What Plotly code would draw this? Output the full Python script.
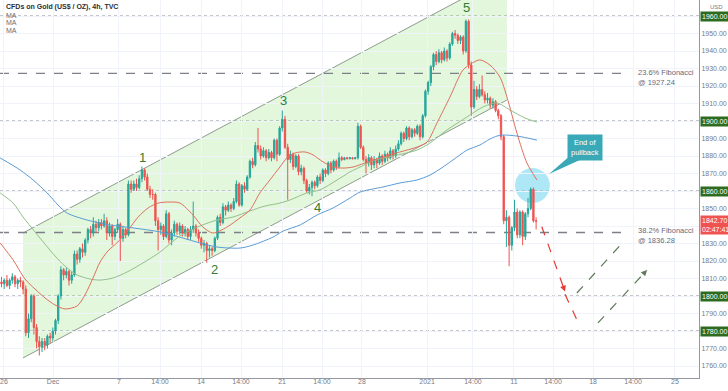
import plotly.graph_objects as go

# ---------------- data ----------------
opens = [1808,1807,1809,1806,1809,1811,1807,1809,1808,1804,1779,1787,1800,1782,1774,1771,1774,1772,1777,1776,
         1780,1786,1800,1815,1812,1814,1809,1812,1824,1821,1827,1825,1832,1838,1836,1841,1839,1842,1840,1843,
         1836,1840,1834,1838,1841,1833,1838,1835,1864,1861,1864,1862,1867,1872,1868,1861,1858,1858,1843,1838,
         1840,1834,1847,1832,1836,1841,1837,1840,1836,1838,1834,1838,1840,1836,1833,1829,1830,1826,1827,1826,
         1833,1845,1842,1851,1849,1852,1850,1854,1864,1852,1863,1861,1868,1877,1875,1886,1884,1880,1883,1879,
         1882,1879,1889,1881,1896,1901,1885,1878,1881,1874,1880,1871,1873,1866,1860,1862,1865,1863,1868,1866,
         1872,1870,1876,1872,1877,1874,1879,1878,1879,1878.5,1879,1878.5,1879,1897,1885,1878,1876,1879,1875,1878,
         1876,1880,1877,1881,1879,1883,1880,1884,1887,1893,1890,1896,1891,1895,1893,1897,1891,1903,1917,1922,
         1931,1938,1934,1939,1935,1940,1936,1944,1950,1949,1946,1948,1940,1957,1932,1908,1918,1914,1918,1915,
         1912,1913,1909,1911,1906,1903,1891,1843,1845,1829,1839,1848,1835,1848,1834,1847,1850,1861,1843]
highs = [1811,1810,1812,1810,1813,1812,1810,1811,1809,1806,1790,1801,1801,1784,1777,1776,1776,1778,1779,1782,
         1787,1801,1817,1816,1816,1815,1814,1826,1826,1828,1830,1833,1839,1840,1845,1843,1844,1844,1847,1845,
         1842,1841,1839,1844,1842,1840,1839,1866,1866,1866,1867,1869,1874,1873,1870,1863,1861,1859,1845,1842,
         1841,1849,1848,1838,1843,1842,1842,1841,1840,1839,1840,1854,1841,1838,1834,1832,1831,1829,1828,1834,
         1846,1847,1853,1852,1854,1853,1856,1866,1865,1864,1865,1869,1878,1879,1888,1896,1886,1885,1884,1884,
         1883,1890,1890,1897,1906,1903,1887,1883,1882,1881,1881,1875,1874,1867,1864,1866,1866,1869,1870,1873,
         1873,1877,1877,1878,1878,1882,1880,1879.5,1879.5,1879.5,1879.5,1879.5,1899,1898,1886,1880,1881,1880,1880,1879,
         1882,1881,1883,1882,1885,1884,1886,1889,1894,1894,1897,1897,1896,1896,1898,1898,1904,1918,1923,1932,
         1939,1940,1941,1940,1942,1941,1945,1951,1952,1950,1949,1949,1958,1958,1934,1923,1920,1921,1926,1917,
         1916,1914,1913,1912,1907,1904,1892,1849,1846,1840,1855,1850,1849,1849,1848,1856,1862,1862,1845]
lows = [1805,1804,1805,1804,1807,1805,1804,1805,1801,1777,1776,1785,1778,1770,1766,1768,1769,1770,1773,1774,
        1778,1784,1798,1809,1810,1806,1807,1811,1818,1819,1822,1823,1830,1833,1834,1836,1837,1838,1839,1832,
        1834,1829,1832,1836,1820,1831,1833,1834,1859,1860,1860,1861,1865,1866,1860,1856,1855,1840,1826,1835,
        1832,1833,1830,1829,1834,1835,1835,1834,1834,1832,1832,1836,1834,1831,1827,1825,1819,1822,1823,1825,
        1832,1840,1841,1846,1848,1848,1849,1853,1851,1851,1859,1860,1867,1873,1874,1882,1878,1879,1877,1878,
        1877,1878,1877,1880,1894,1884,1855,1876,1872,1873,1869,1869,1864,1859,1858,1857,1861,1862,1864,1865,
        1868,1869,1870,1871,1872,1873,1877,1877.5,1878,1878,1878,1878,1878,1884,1877,1870,1874,1872,1873,1873,
        1875,1875,1876,1877,1878,1878,1879,1883,1886,1888,1889,1889,1890,1891,1892,1889,1890,1902,1915,1920,
        1929,1932,1933,1933,1934,1934,1935,1943,1947,1944,1944,1938,1939,1930,1903,1907,1912,1913,1914,1910,
        1910,1907,1907,1905,1901,1889,1841,1828,1817,1826,1837,1833,1833,1829,1832,1845,1849,1842,1838]
closes = [1807,1809,1806,1809,1811,1807,1809,1808,1804,1779,1787,1800,1782,1774,1771,1774,1772,1777,1776,1780,
          1786,1800,1815,1812,1814,1809,1812,1824,1821,1827,1825,1832,1838,1836,1841,1839,1842,1840,1843,1836,
          1840,1834,1838,1841,1833,1838,1835,1864,1861,1864,1862,1867,1872,1868,1861,1858,1858,1843,1838,1840,
          1834,1847,1832,1836,1841,1837,1840,1836,1838,1834,1838,1840,1836,1833,1829,1830,1826,1827,1826,1833,
          1845,1842,1851,1849,1852,1850,1854,1864,1852,1863,1861,1868,1877,1875,1886,1884,1880,1883,1879,1882,
          1879,1889,1881,1896,1901,1885,1878,1881,1874,1880,1871,1873,1866,1860,1862,1865,1863,1868,1866,1872,
          1870,1876,1872,1877,1874,1879,1878,1879,1878.5,1879,1878.5,1879,1897,1885,1878,1876,1879,1875,1878,1876,
          1880,1877,1881,1879,1883,1880,1884,1887,1893,1890,1896,1891,1895,1893,1897,1891,1903,1917,1922,1931,
          1938,1934,1939,1935,1940,1936,1944,1950,1949,1946,1948,1940,1957,1932,1908,1918,1914,1918,1915,1912,
          1913,1909,1911,1906,1903,1891,1843,1845,1829,1839,1848,1835,1848,1834,1847,1850,1861,1843,1842.7]
bars = list(range(len(closes)))

# moving averages (read at sample bars)
ma_red_x = [-0.5,4.3,8.7,12.4,16.1,19.8,23.5,28.0,30.9,33.9,36.5,39.4,43.1,46.9,50.6,54.3,58.0,62.4,66.1,70.9,
            74.6,78.3,83.5,88.3,92.0,95.7,99.4,103.1,105.7,108.7,112.4,115.4,119.1,122.8,126.5,130.2,134.6,141.3,
            147.6,153.9,157.6,161.3,166.1,170.9,174.3,177.2,180.9,184.6,187.2,190.9,194.6,198.3]
ma_red_y = [1830.3,1820.6,1809.7,1804.0,1798.9,1794.9,1792.6,1794.3,1800.6,1810.3,1819.4,1825.7,1830.9,1837.7,
            1845.1,1850.3,1853.1,1853.7,1853.1,1846.3,1839.4,1836.0,1839.4,1844.6,1849.1,1858.9,1866.3,1873.7,
            1878.9,1881.7,1882.3,1880.6,1876.6,1873.7,1873.1,1873.7,1876.0,1879.4,1882.3,1885.1,1888.0,1898.9,
            1913.7,1929.1,1933.1,1934.9,1932.0,1925.1,1913.7,1893.1,1876.0,1866.3]
ma_green_x = [-0.5,4.3,8.0,12.4,16.1,19.8,23.5,28.0,32.8,36.5,41.3,46.5,52.4,58.7,66.1,73.5,79.8,85.7,92.0,97.6,
              103.1,106.9,113.1,117.9,124.3,129.1,132.8,138.3,145.0,153.9,158.7,165.0,172.4,178.3,183.5,188.3,
              193.9,198.3]
ma_green_y = [1858.9,1853.1,1845.1,1836.6,1829.7,1822.9,1817.1,1812.0,1809.7,1809.1,1810.3,1813.7,1818.9,1825.1,
              1834.3,1840.0,1843.4,1845.1,1848.6,1851.4,1853.1,1854.9,1858.9,1860.6,1866.3,1870.9,1873.7,1877.7,
              1880.0,1883.4,1887.4,1894.9,1902.3,1908.0,1910.3,1906.3,1901.7,1899.4]
ma_blue_x = [-0.5,6.9,11.7,16.9,20.9,24.3,31.7,40.2,48.7,58.7,67.2,73.5,79.8,88.3,93.1,100.6,104.3,110.6,116.9,
             122.8,129.1,132.8,141.3,147.6,153.9,158.7,163.5,169.8,172.4,177.2,180.9,183.5,185.7,190.9,198.3]
ma_blue_y = [1878.9,1872.0,1866.3,1858.9,1852.0,1847.4,1843.4,1840.6,1838.9,1836.6,1833.1,1830.3,1828.0,1827.4,
             1829.1,1833.7,1837.1,1840.6,1846.3,1850.3,1856.0,1859.4,1862.3,1864.6,1866.3,1869.1,1873.7,1880.6,
             1883.4,1886.3,1889.7,1891.4,1892.0,1891.4,1889.1]

# x-axis ticks
tick_pos = [0.9,19.1,43.5,58.7,73.9,88.7,103.9,118.7,133.5,157.6,174.6,189.8,204.3,219.1,233.9,249.4]
tick_text = ["26","Dec","7","14:00","14","14:00","21","14:00","28","2021","14:00","11","14:00","18","14:00","25"]

# y-axis ticks
price_ticks = [1760,1770,1780,1790,1800,1810,1820,1830,1840,1850,1860,1870,1880,1890,1900,1910,1920,1930,1940,1950,1960]
price_text = ["1760.00","1770.00","","1790.00","","1810.00","1820.00","1830.00","","1850.00","","1870.00",
              "1880.00","1890.00","","1910.00","1920.00","1930.00","1940.00","1950.00",""]

# horizontal levels
dotted_levels = [1960, 1900, 1860, 1800, 1780]
fib_levels = [1927.24, 1836.28]
fib_labels = ["23.6% Fibonacci<br>@ 1927.24", "38.2% Fibonacci<br>@ 1836.28"]
last_price = 1842.70

# channel anchors (bar, price)
chan_x = [7.96, 187.2]
chan_upper = [1836.0, 1983.4]
chan_lower = [1764.6, 1912.0]

# wave labels
wave_text = ["1", "2", "3", "4", "5"]
wave_x = [52.4, 78.7, 104.3, 117.2, 172.4]
wave_y = [1879.4, 1814.9, 1912.0, 1850.3, 1964.6]

# projected paths
red_paths = [((200.1, 1839.6), (208.7, 1802.5)), ((208.7, 1801.0), (214.3, 1782.5))]
green_paths = [((213.1, 1801.7), (230.9, 1832.0)), ((220.9, 1784.6), (239.1, 1814.9))]

XR = [-0.56, 258.33]
YR = [1753.14, 1969.14]
FONT = "Liberation Sans"
NARROW = "Liberation Sans Narrow, Liberation Sans"

fig = go.Figure()

fig.add_trace(go.Candlestick(
    x=bars, open=opens, high=highs, low=lows, close=closes,
    increasing=dict(line=dict(color="#26a69a", width=1), fillcolor="#26a69a"),
    decreasing=dict(line=dict(color="#ef5350", width=1), fillcolor="#ef5350"),
    whiskerwidth=0, hoverinfo="skip"))

for xs, ys, col in [(ma_blue_x, ma_blue_y, "#5b9bd5"), (ma_green_x, ma_green_y, "#94bf8a"),
                    (ma_red_x, ma_red_y, "#e0705c")]:
    fig.add_trace(go.Scatter(x=xs, y=ys, mode="lines",
                             line=dict(color=col, width=1, shape="spline", smoothing=0.8),
                             hoverinfo="skip"))

shapes = []
path = (f"M {chan_x[0]},{chan_upper[0]} L {chan_x[1]},{chan_upper[1]} "
        f"L {chan_x[1]},{chan_lower[1]} L {chan_x[0]},{chan_lower[0]} Z")
shapes.append(dict(type="path", path=path, xref="x", yref="y", fillcolor="rgba(140,222,115,0.25)",
                   line=dict(width=0), layer="below"))
for ys in (chan_upper, chan_lower):
    shapes.append(dict(type="line", xref="x", yref="y", x0=chan_x[0], x1=chan_x[1], y0=ys[0], y1=ys[1],
                       line=dict(color="#8e9a8e", width=1), layer="below"))
for lv in dotted_levels:
    shapes.append(dict(type="line", xref="paper", yref="y", x0=0, x1=1, y0=lv, y1=lv,
                       line=dict(color="#8a8d96", width=1, dash="dot"), layer="below"))
for lv in fib_levels:
    shapes.append(dict(type="line", xref="x", yref="y", x0=XR[0], x1=230.9, y0=lv, y1=lv,
                       line=dict(color="#7d8088", width=1.3, dash="dash"), layer="below"))
shapes.append(dict(type="circle", xref="x", yref="y", x0=190.2, x1=203.1, y0=1853.1, y1=1873.1,
                   fillcolor="rgba(120,215,238,0.6)", line=dict(width=0), layer="below"))
shapes.append(dict(type="path", xref="x", yref="y",
                   path="M 210.9,1880.6 L 215.0,1878.3 L 202.8,1869.7 Z",
                   fillcolor="#3aa9b7", line=dict(width=0)))
for (p0, p1) in red_paths:
    shapes.append(dict(type="line", xref="x", yref="y", x0=p0[0], y0=p0[1], x1=p1[0], y1=p1[1],
                       line=dict(color="#e53935", width=1.2, dash="dash")))
for (p0, p1) in green_paths:
    shapes.append(dict(type="line", xref="x", yref="y", x0=p0[0], y0=p0[1], x1=p1[0], y1=p1[1],
                       line=dict(color="#5e7a5a", width=1.2, dash="dash")))

annotations = []
for paths, col in [(red_paths, "#e53935"), (green_paths, "#5e7a5a")]:
    for (p0, p1) in paths:
        annotations.append(dict(x=p1[0], y=p1[1], ax=p1[0] - (p1[0] - p0[0]) * 0.05,
                                ay=p1[1] - (p1[1] - p0[1]) * 0.05, axref="x", ayref="y",
                                xref="x", yref="y", showarrow=True, arrowhead=2, arrowsize=1.2,
                                arrowwidth=1, arrowcolor=col, text=""))
annotations.append(dict(xref="paper", yref="paper", x=0.0057, y=0.9815, xanchor="left", yanchor="middle",
                        text="<b>CFDs on Gold (US$ / OZ), 4h, TVC</b>", showarrow=False,
                        font=dict(size=7, color="#2a2e39", family=FONT)))
for yy in [0.9603, 0.9392, 0.918]:
    annotations.append(dict(xref="paper", yref="paper", x=0.0057, y=yy, xanchor="left", yanchor="middle",
                            text="MA", showarrow=False, font=dict(size=7, color="#6a6d78", family=FONT)))
for t, x, y in zip(wave_text, wave_x, wave_y):
    annotations.append(dict(x=x, y=y, xref="x", yref="y", text=t, showarrow=False,
                            font=dict(size=13, color="#2e7d32", family=FONT)))
for lv, txt, ty in zip(fib_levels, fib_labels, [1925.1, 1834.3]):
    annotations.append(dict(x=235.0, y=ty, xref="x", yref="y", text=txt, showarrow=False,
                            xanchor="left", yanchor="middle", align="left",
                            font=dict(size=7.5, color="#5d6b82", family=FONT)))
annotations.append(dict(x=216.1, y=1884.9, xref="x", yref="y", text="End of<br>pullback", showarrow=False,
                        bgcolor="#3aa9b7", borderpad=3, font=dict(size=7.5, color="white", family=FONT)))
for lv in dotted_levels:
    annotations.append(dict(xref="paper", yref="y", x=1, y=lv, xanchor="left", yanchor="middle", xshift=1,
                            text=f"{lv:.2f}", showarrow=False, bgcolor="#2e6b1f", borderpad=1,
                            font=dict(size=7, color="white", family=NARROW)))
annotations.append(dict(xref="paper", yref="y", x=1, y=last_price, xanchor="left", yanchor="middle",
                        xshift=1, yshift=-4, text=f"{last_price:.2f}<br>02:47:41", showarrow=False,
                        bgcolor="#ef5350", borderpad=1, align="left",
                        font=dict(size=7, color="white", family=NARROW)))
annotations.append(dict(xref="paper", yref="paper", x=1, y=0.9815, xanchor="left", yanchor="middle",
                        xshift=9, text="USD", showarrow=False, font=dict(size=6, color="#787b86", family=FONT)))

fig.update_layout(
    width=728, height=391, margin=dict(l=0, r=29, t=0, b=13, autoexpand=False),
    paper_bgcolor="white", plot_bgcolor="white", showlegend=False,
    shapes=shapes, annotations=annotations,
    xaxis=dict(range=XR, tickvals=tick_pos, ticktext=tick_text, showgrid=True, gridcolor="#f0f3fa",
               showline=True, linecolor="#9598a1", zeroline=False, ticks="", automargin=False,
               ticklabelstandoff=-3,
               tickfont=dict(size=7, color="#787b86", family=NARROW),
               rangeslider=dict(visible=False), fixedrange=True),
    yaxis=dict(range=YR, side="right", tickvals=price_ticks, ticktext=price_text, showgrid=True,
               gridcolor="#f0f3fa", showline=True, linecolor="#9598a1", zeroline=False, ticks="",
               automargin=False,
               tickfont=dict(size=7, color="#787b86", family=NARROW), fixedrange=True),
)

fig.write_html("out.html", config={"displayModeBar": False},
               post_script="document.body.style.margin='0';document.body.style.overflow='hidden';")
